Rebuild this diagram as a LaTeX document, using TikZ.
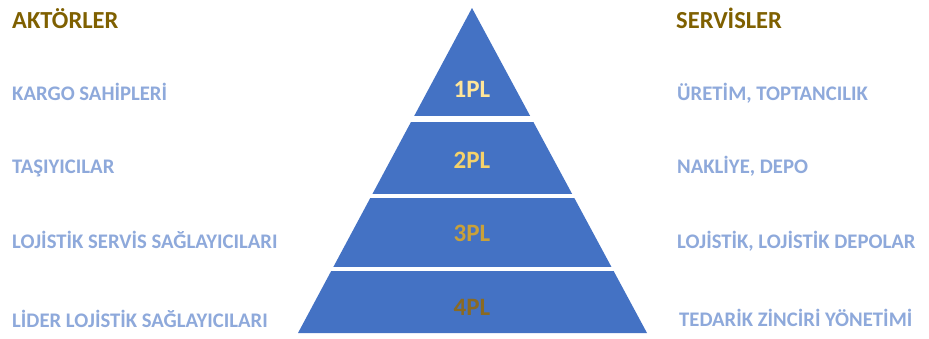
\documentclass[tikz,border=0pt]{standalone}
\usepackage{fontspec}
\setmainfont{Carlito}
\definecolor{pyrblue}{HTML}{4472C4}
\definecolor{lightblue}{HTML}{8EA9DB}
\definecolor{headbrown}{HTML}{7F6000}
\definecolor{plone}{HTML}{FFE699}
\definecolor{pltwo}{HTML}{F5D26A}
\definecolor{plthree}{HTML}{C9A13A}
\definecolor{plfour}{HTML}{8A6A22}
\begin{document}
\begin{tikzpicture}[x=1pt,y=-1pt,
  head/.style={anchor=base west,inner sep=0pt,font=\bfseries\fontsize{24.5}{28}\selectfont,text=headbrown},
  item/.style={anchor=base west,inner sep=0pt,font=\bfseries\fontsize{20.7}{24}\selectfont,text=lightblue},
  pl/.style={anchor=base,inner sep=0pt,font=\bfseries\fontsize{25}{29}\selectfont}]
\useasboundingbox (0,0) rectangle (929,338);
\fill[white] (0,0) rectangle (929,338);
% pyramid
\fill[pyrblue] (472,8) -- (647,333) -- (298,333) -- cycle;
\fill[white] (280,116) rectangle (660,122);
\fill[white] (280,194) rectangle (660,198);
\fill[white] (280,267) rectangle (660,271);
\node[pl,text=plone]   (p1) at (472,97)  {1PL};
\node[pl,text=pltwo]   (p2) at (472,168) {2PL};
\node[pl,text=plthree] (p3) at (472,241) {3PL};
\node[pl,text=plfour]  (p4) at (472,315) {4PL};
% left
\node[head] (ah) at (12,28) {AKTÖRLER};
\node[item] (a1) at (12,100) {KARGO SAHİPLERİ};
\node[item] (a2) at (12,173) {TAŞIYICILAR};
\node[item] (a3) at (12,248) {LOJİSTİK SERVİS SAĞLAYICILARI};
\node[item] (a4) at (12,327) {LİDER LOJİSTİK SAĞLAYICILARI};
% right
\node[head] (sh) at (676,28) {SERVİSLER};
\node[item] (s1) at (677,100) {ÜRETİM, TOPTANCILIK};
\node[item] (s2) at (677,173) {NAKLİYE, DEPO};
\node[item] (s3) at (677,248) {LOJİSTİK, LOJİSTİK DEPOLAR};
\node[item] (s4) at (679,326) {TEDARİK ZİNCİRİ YÖNETİMİ};
\end{tikzpicture}
\end{document}
